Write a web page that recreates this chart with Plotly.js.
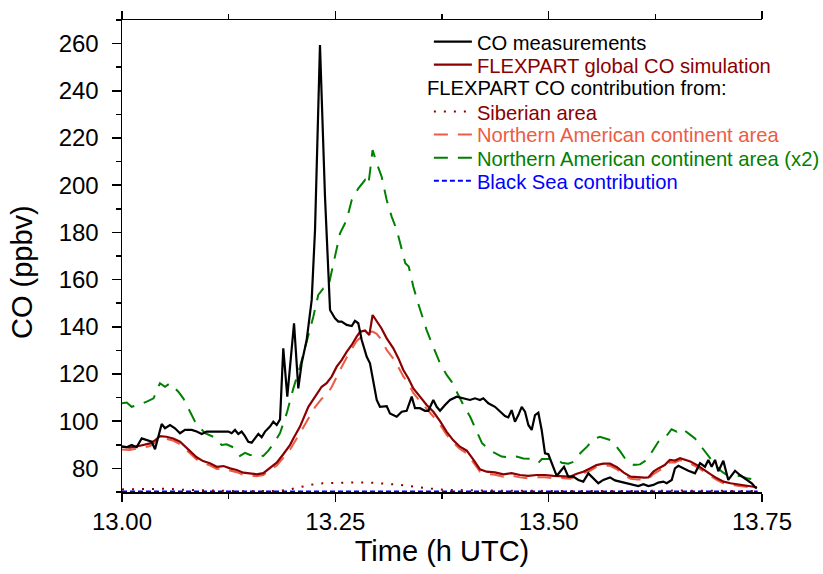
<!DOCTYPE html>
<html>
<head>
<meta charset="utf-8">
<script src="https://cdn.plot.ly/plotly-3.0.1.min.js"></script>
<style>html,body{margin:0;padding:0;background:#fff;}#chart{width:823px;height:574px;}</style>
</head>
<body>
<div id="chart"></div>
<script>
// ---- Data (time in h UTC, CO in ppbv) ----
const measT = [13.000,13.0055,13.0113,13.0172,13.0231,13.029,13.0348,13.0387,13.0414,13.0465,13.0504,13.0563,13.0621,13.068,13.0738,13.0817,13.0875,13.0934,13.0992,13.1148,13.1246,13.1285,13.1324,13.1363,13.1402,13.1441,13.148,13.152,13.1559,13.1598,13.1637,13.1676,13.1734,13.1773,13.1813,13.1852,
13.189,13.1937,13.2016,13.2066,13.2105,13.2164,13.2223,13.2262,13.232,13.234,13.2379,13.2438,13.2496,13.2535,13.2574,13.2633,13.2692,13.273,13.2769,13.2809,13.2868,13.2906,13.2945,13.2985,13.3023,13.3102,13.314,13.3219,13.3278,13.3336,13.3395,13.3434,13.3492,13.3551,13.359,13.3648,13.3688,13.3727,13.3785,13.3844,13.3922,13.4,13.4078,13.4137,13.4195,13.4234,13.4293,13.4371,13.443,13.4488,13.4527,13.4566,13.4605,13.4645,13.4684,13.4723,13.4762,13.4801,13.484,13.4879,13.4918,13.4957,13.4996,13.5055,13.5094,13.5133,13.518,13.523,13.5289,13.5348,13.5406,13.5465,13.5523,13.5582,13.564,13.5719,13.5777,13.5875,13.5973,13.6051,13.611,13.6168,13.6227,13.6285,13.6344,13.6383,13.6442,13.648,13.652,13.6578,13.6637,13.6715,13.6774,13.6832,13.6871,13.691,13.695,13.6988,13.7047,13.7105,13.7145,13.7184,13.7242,13.732,13.738,13.742,13.744];
const measCO = [89.2,89,89.9,89,92.7,92,91.3,88.1,92,98.8,97,98.4,97,94.9,96.3,96.3,95.6,94.6,95.6,95.6,95.6,94.9,96.3,94.6,95.6,93.7,91.3,90.9,92.7,94.6,93.2,95.6,97.7,99.8,98.4,100.8,
130.9,110.4,141.5,113.9,124.5,134.4,151.4,181,259.4,237.5,195,147.1,143.6,142.2,142.2,140.8,140.3,142.5,141.5,134.4,127.3,124.5,116.1,109,106.1,106.4,103.3,101.9,104,104.4,110.4,105.5,105.5,104.4,104.4,109,106.1,104.4,106.9,109,110.4,109.7,109,109.7,109,109.7,107.6,106.1,104,102.2,101.6,104.7,99.8,102.6,106.1,104,98.4,96.3,102.6,103.6,96.3,86.4,86,80,76.8,78.6,80.7,76.5,76.5,75.1,74.4,77.9,75.8,73.7,75.1,76.2,74.9,74,73,72.5,73.3,72.5,73,74,74.4,73.7,75.1,80,81.1,80,79,77.9,82.2,80.7,83.6,80.7,83.6,78.8,83.2,75.1,77.2,79,77.2,75.1,73.7,72,71.6];

const simT = [13.000,13.009,13.021,13.033,13.039,13.0445,13.052,13.06,13.068,13.074,13.08,13.0875,13.095,13.103,13.111,13.119,13.1266,13.1344,13.1422,13.15,13.1578,13.1656,13.1734,13.1813,13.189,13.197,13.2008,13.2086,13.2184,13.2262,13.234,13.2398,13.2457,13.2516,13.2574,13.2633,13.2692,13.275,13.279,13.2848,13.2898,13.2937,13.2985,13.304,13.3102,13.318,13.3238,13.3297,13.3355,13.3414,13.3492,13.357,13.3648,13.3727,13.3805,13.388,13.396,13.404,13.412,13.4195,13.4273,13.437,13.447,13.4566,13.4664,13.476,13.486,13.4957,13.5055,13.515,13.525,13.533,13.5406,13.5484,13.556,13.564,13.572,13.58,13.588,13.596,13.604,13.612,13.6168,13.6227,13.6285,13.636,13.642,13.648,13.654,13.66,13.666,13.674,13.682,13.6895,13.6973,13.705,13.713,13.721,13.729,13.737,13.744];
const simCO = [89.2,88.8,89.6,90.6,92,93.7,93.4,92.7,91.3,89.2,87.1,84.7,83.1,82.2,80.7,81,80,79.3,78.2,78,77.5,78,80,82.4,86,90,92.7,97.7,106.1,110.4,114.6,116.1,118.9,123.1,125.9,129.4,132.3,135.8,137.9,138.4,136.5,145,142.2,139.4,135.1,130.9,126.7,121.7,118.2,113.9,110.4,106.9,104,100,95.5,92,89.2,87.5,83.6,79.6,78.6,78.3,77.5,78,77.2,76.8,77.2,77.2,76.8,76.8,76.5,77.7,78.6,80,81.4,82,82,80.5,78.2,76.5,76.2,76.1,76.2,78.6,80,81.4,83.6,83.3,84.3,83.6,82.9,81.4,79.3,77.6,75.8,74.4,73.7,73.3,73,72.5,72];

const namT = [13.000,13.009,13.021,13.033,13.039,13.0445,13.052,13.06,13.068,13.074,13.08,13.0875,13.095,13.103,13.111,13.119,13.1266,13.1344,13.1422,13.15,13.1578,13.1656,13.1734,13.1813,13.189,13.197,13.2086,13.2184,13.2262,13.234,13.2398,13.2457,13.2516,13.2574,13.2633,13.2692,13.275,13.2848,13.2937,13.2985,13.304,13.3102,13.318,13.3238,13.3297,13.3355,13.3414,13.3492,13.357,13.3648,13.3727,13.3805,13.388,13.396,13.404,13.412,13.4195,13.4273,13.437,13.447,13.4566,13.4664,13.476,13.486,13.4957,13.5055,13.515,13.525,13.533,13.5406,13.5484,13.556,13.564,13.572,13.58,13.588,13.596,13.604,13.612,13.6168,13.6227,13.6285,13.636,13.642,13.648,13.654,13.66,13.666,13.674,13.682,13.6895,13.6973,13.705,13.713,13.721,13.729,13.737,13.744];
const namCO = [88,87.8,88.6,89.5,91,92.8,92.5,91.8,90.2,88.2,86,83.8,82.1,81.3,79.8,80,79.1,78.4,77.3,77.1,76.7,77.2,79,81.2,84.5,88,95,101,106,109.5,111,114.5,119,123,127,130.5,134,137.2,138,137,134.5,130.2,126.5,123,119,116,112,108.5,105,102,98.5,94.2,91,88.2,86.4,82.6,78.6,77.6,77.3,76.5,77,76.2,75.8,76.2,76.2,75.8,75.9,75.6,76.8,77.7,79,80.6,81.2,81.1,79.6,77.2,75.6,75.3,75.2,75.4,77.6,79,80.5,82.6,82.5,83.5,82.8,82,80.5,78.4,76.8,75,73.7,73,72.7,72.5,72,71.6];

const nam2T = [13.000,13.0055,13.0113,13.02,13.029,13.037,13.0445,13.0504,13.0563,13.066,13.0718,13.08,13.0856,13.0973,13.107,13.1168,13.1226,13.1305,13.1383,13.1441,13.15,13.1656,13.1715,13.1793,13.1852,13.193,13.2008,13.2086,13.2164,13.2242,13.23,13.236,13.2418,13.248,13.2555,13.2633,13.2692,13.277,13.2848,13.2887,13.2937,13.2985,13.3043,13.3102,13.316,13.322,13.326,13.332,13.336,13.3414,13.347,13.353,13.357,13.363,13.369,13.3727,13.3805,13.3864,13.3922,13.4,13.408,13.416,13.422,13.432,13.44,13.4449,13.4547,13.4625,13.4703,13.48,13.488,13.492,13.4996,13.5094,13.5152,13.523,13.529,13.537,13.545,13.5523,13.56,13.568,13.574,13.584,13.592,13.6,13.607,13.615,13.6227,13.6285,13.6344,13.644,13.65,13.656,13.666,13.6715,13.6774,13.685,13.691,13.697,13.703,13.709,13.7166,13.7245,13.732,13.74,13.744];
const nam2CO = [107.6,107.9,106.1,107,108.3,109.7,116.1,114.6,116.1,112.5,109.7,104,99.8,94.9,93.4,89.9,90.2,88.9,85.3,86.6,85.7,85.3,87.5,91.3,95,103.3,113.9,123.1,133.7,144.3,153.5,156.3,156.9,166.9,179.6,185.3,193.7,198.7,202.2,200.1,214.9,209.3,203.6,193.7,186.7,181,175.4,166.9,165.5,157,150,142.9,138.6,133,127.3,124.5,119.6,116.7,112.5,106.9,101.9,95.6,90.6,87.5,86.1,85,84.6,85,84.2,84,82.4,84,84,84,82.4,82,82.8,86.4,89.2,92.3,93.4,92.5,91.8,87.1,82.9,81.5,81.7,83.6,87.8,91.3,92,96.6,95.6,97,94.2,92.7,89.9,86.4,83.6,80.7,78.6,77.2,76.8,76.8,75.8,75.3,75.1];

const sibT = [13.000,13.02,13.04,13.05,13.07,13.09,13.11,13.13,13.15,13.17,13.185,13.195,13.205,13.215,13.225,13.235,13.25,13.27,13.29,13.305,13.32,13.335,13.35,13.365,13.38,13.40,13.43,13.46,13.50,13.55,13.60,13.65,13.70,13.745];
const sibCO = [71.1,71.1,71.2,71.4,71,70.7,70.5,70.4,70.3,70.3,70.5,71,71.8,72.6,73.3,73.7,73.9,74,74,73.7,73.2,72.6,71.9,71.3,70.9,70.7,70.6,70.5,70.4,70.5,70.4,70.6,70.5,70.4];

const bsT = [13.000,13.25,13.50,13.745];
const bsCO = [70.2,70.2,70.2,70.2];

const names = {
  meas: 'CO measurements',
  sim: 'FLEXPART global CO simulation',
  header: 'FLEXPART CO contribution from:',
  sib: 'Siberian area',
  nam: 'Northern American continent area',
  nam2: 'Northern American continent area (x2)',
  bs: 'Black Sea contribution'
};
const C = {black:'#000000', dred:'#8B0000', orange:'#EE5B45', green:'#008000', blue:'#0000FF'};
const col = (c, s) => '<span style="color:' + c + '">' + s + '</span>';

const traces = [
  {x: bsT, y: bsCO, name: col(C.blue, names.bs), legend: 'legend6',
   mode: 'lines', line: {color: C.blue, width: 2, dash: '5px,3px'}, cliponaxis: false},
  {x: nam2T, y: nam2CO, name: col(C.green, names.nam2), legend: 'legend5',
   mode: 'lines', line: {color: C.green, width: 2, dash: '14px,10px'}},
  {x: namT, y: namCO, name: col(C.orange, names.nam), legend: 'legend4',
   mode: 'lines', line: {color: C.orange, width: 2, dash: '14px,10px'}},
  {x: sibT, y: sibCO, name: col(C.dred, names.sib), legend: 'legend3',
   mode: 'lines', line: {color: C.dred, width: 2, dash: '2px,8px'}},
  {x: simT, y: simCO, name: col(C.dred, names.sim), legend: 'legend2',
   mode: 'lines', line: {color: C.dred, width: 2.2}},
  {x: measT, y: measCO, name: names.meas, legend: 'legend',
   mode: 'lines', line: {color: C.black, width: 2.2}}
];

const FONT = 'Liberation Sans, Arial, sans-serif';
const LEGX = 0.4795;
const LFS = 20.2;
const legendRow = (y) => ({x: LEGX, y: y, xanchor: 'left', yanchor: 'middle',
  bgcolor: 'rgba(0,0,0,0)', borderwidth: 0, itemwidth: 38,
  font: {family: FONT, size: LFS, color: '#000'}});

const layout = {
  width: 823, height: 574,
  margin: {l: 122, r: 61, t: 20, b: 82, autoexpand: false},
  paper_bgcolor: '#fff', plot_bgcolor: '#fff',
  font: {family: FONT, color: '#000', size: LFS},
  showlegend: true,
  legend: legendRow(0.9534),
  legend2: legendRow(0.9047),
  legend3: legendRow(0.8051),
  legend4: legendRow(0.7564),
  legend5: legendRow(0.7076),
  legend6: legendRow(0.6589),
  annotations: [{
    xref: 'paper', yref: 'paper', x: 0.474, y: 0.8559, xanchor: 'left', yanchor: 'middle',
    text: names.header, showarrow: false, font: {family: FONT, size: LFS, color: '#000'}
  }],
  xaxis: {
    range: [13, 13.75], tick0: 13, dtick: 0.25, tickformat: '.2f',
    ticks: 'outside', ticklen: 8, tickwidth: 1.5, tickcolor: '#000',
    showline: true, linewidth: 1.5, linecolor: '#000', mirror: 'ticks',
    showgrid: false, zeroline: false,
    tickfont: {family: FONT, size: 24, color: '#000'},
    minor: {dtick: 0.125, ticks: 'outside', ticklen: 5, tickwidth: 1.5, tickcolor: '#000', showgrid: false},
    title: {text: 'Time (h UTC)', font: {family: FONT, size: 29, color: '#000'}, standoff: 4},
    automargin: false
  },
  yaxis: {
    range: [70, 270], tick0: 0, dtick: 20,
    ticks: 'outside', ticklen: 9, tickwidth: 1.5, tickcolor: '#000',
    ticklabelstandoff: 8,
    showline: true, linewidth: 1.5, linecolor: '#000', mirror: false,
    showgrid: false, zeroline: false,
    tickfont: {family: FONT, size: 24, color: '#000'},
    minor: {dtick: 10, tick0: 0, ticks: 'outside', ticklen: 5, tickwidth: 1.5, tickcolor: '#000', showgrid: false},
    title: {text: 'CO (ppbv)&nbsp;&nbsp;&nbsp;&nbsp;', font: {family: FONT, size: 29, color: '#000'}, standoff: 17},
    automargin: false
  }
};

Plotly.newPlot('chart', traces, layout, {staticPlot: true, displayModeBar: false});
</script>
</body>
</html>
